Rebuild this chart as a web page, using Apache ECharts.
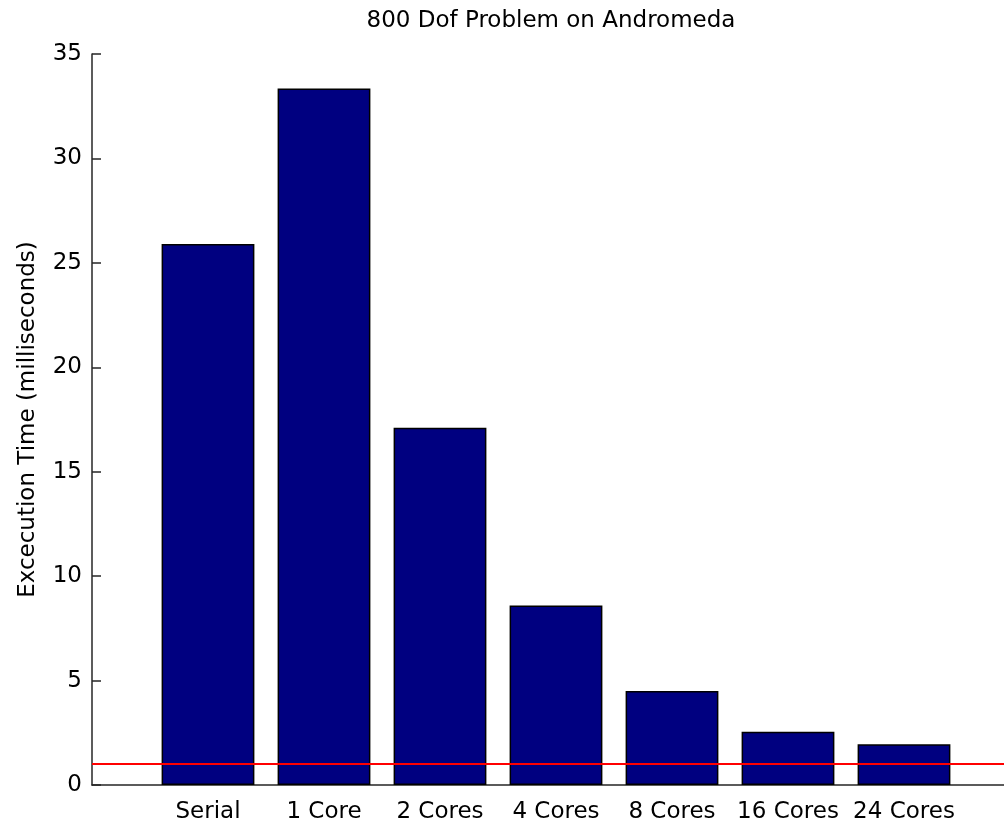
<!DOCTYPE html>
<html>
<head>
<meta charset="utf-8">
<title>800 Dof Problem on Andromeda</title>
<script src="https://cdn.jsdelivr.net/npm/echarts@6/dist/echarts.min.js"></script>
<style>
  html, body { margin: 0; padding: 0; background: #ffffff; }
  #chart { width: 1004px; height: 826px; }
</style>
</head>
<body>
<div id="chart"></div>
<script>
// Run configurations along the x axis
const categories = ['Serial', '1 Core', '2 Cores', '4 Cores', '8 Cores', '16 Cores', '24 Cores'];
// Measured execution time per configuration (milliseconds)
const execTimeMs = [25.9, 33.35, 17.1, 8.6, 4.5, 2.55, 1.95];
// Reference level drawn as a horizontal red line
const referenceTimeMs = 1;
// Y axis range and step
const yMin = 0;
const yMax = 35;
const yStep = 5;

const FONT = 'DejaVu Sans';
const TEXT_COLOR = '#000000';
const AXIS_COLOR = '#262626';

// Bars sit at x = 1..7 on a 0..8 value axis (right end runs past the canvas edge)
const barData = categories.map((name, i) => [i + 1, execTimeMs[i]]);

const chart = echarts.init(document.getElementById('chart'), null, { renderer: 'canvas' });

chart.setOption({
  animation: false,
  backgroundColor: '#ffffff',
  title: {
    text: '800 Dof Problem on Andromeda',
    left: 551,
    top: 10,
    padding: 0,
    textAlign: 'center',
    textStyle: {
      fontFamily: FONT,
      fontSize: 23,
      fontWeight: 'normal',
      color: TEXT_COLOR
    }
  },
  grid: {
    left: 92,
    right: -16,
    top: 54,
    bottom: 41,
    containLabel: false,
    outerBoundsMode: 'none'
  },
  xAxis: {
    type: 'value',
    min: 0,
    max: categories.length + 1,
    interval: 1,
    axisLine: { show: true, onZero: false, lineStyle: { color: AXIS_COLOR, width: 1.5 } },
    axisTick: { show: false },
    splitLine: { show: false },
    axisLabel: {
      margin: 16,
      fontFamily: FONT,
      fontSize: 23,
      color: TEXT_COLOR,
      showMinLabel: true,
      showMaxLabel: true,
      formatter: (v) => categories[v - 1] || ''
    }
  },
  yAxis: {
    type: 'value',
    min: yMin,
    max: yMax,
    interval: yStep,
    name: 'Excecution Time (milliseconds)',
    nameLocation: 'middle',
    nameRotate: 90,
    nameGap: 52,
    nameTextStyle: {
      fontFamily: FONT,
      fontSize: 23,
      color: TEXT_COLOR
    },
    axisLine: { show: true, lineStyle: { color: AXIS_COLOR, width: 1.5 } },
    axisTick: { show: true, inside: true, length: 9, lineStyle: { color: AXIS_COLOR, width: 1.5 } },
    splitLine: { show: false },
    axisLabel: {
      margin: 10,
      fontFamily: FONT,
      fontSize: 23,
      color: TEXT_COLOR,
      padding: [6, 0, 0, 0]
    }
  },
  series: [{
    type: 'bar',
    data: barData,
    barWidth: '80%',
    itemStyle: {
      color: '#000080',
      borderColor: '#000000',
      borderWidth: 1.5
    },
    markLine: {
      silent: true,
      symbol: ['none', 'none'],
      label: { show: false },
      lineStyle: { color: '#ff0000', width: 2, type: 'solid' },
      data: [{ yAxis: referenceTimeMs }]
    }
  }]
});
</script>
</body>
</html>
